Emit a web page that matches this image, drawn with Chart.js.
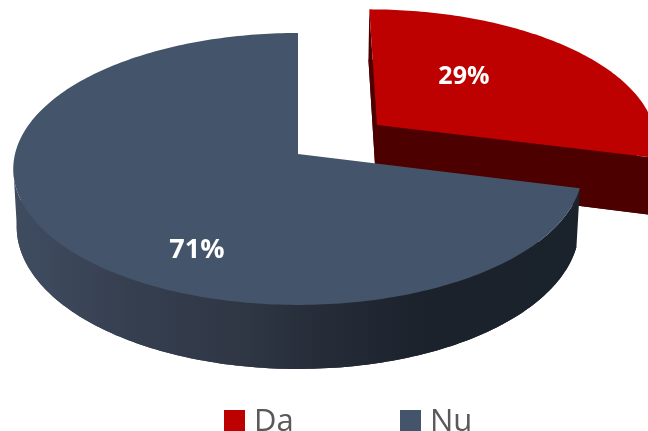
<!DOCTYPE html>
<html><head><meta charset="utf-8">
<style>html,body{margin:0;padding:0;background:#fff;overflow:hidden}#w{width:648px;height:431px}</style>
<script src="https://cdn.jsdelivr.net/npm/chart.js@4/dist/chart.umd.min.js"></script>
</head><body><div id="w"><canvas id="c" width="648" height="431"></canvas></div>
<script>
const categories = ['Da', 'Nu'];
const shares = [29, 71];
const sliceColors = ['#BD0000', '#44546A'];
const wallColors = ['#4C0000', null];
const valueLabels = ['29%', '71%'];

// perspective camera for the pie
const cam = {cx: 298, cy: 154, R: 283, S: 134.3, k: 0.11, D: 57, shrink: 0.012};
const project = (x, y, z) => {
  const w = 1 + cam.k * y;
  return [cam.cx + cam.R * x / w * (1 - cam.shrink * z), cam.cy + (-cam.S * y + cam.D * z) / w];
};
const labelAnchor = [[0.34, 0.39], [-0.331, -0.665]];
const labelFont = [25, 27];

const pie3d = {
  id: 'pie3d',
  beforeDatasetDraw(chart, args) {
    const ctx = chart.ctx;
    const arcs = chart.getDatasetMeta(args.index).data;
    const step = Math.PI / 180;
    arcs.forEach((arc, i) => {
      const p = arc.getProps(['startAngle', 'endAngle', 'outerRadius']);
      const d = arc.options.offset / p.outerRadius;
      const mid = (p.startAngle + p.endAngle) / 2;
      const ox = Math.cos(mid) * d, oy = -Math.sin(mid) * d;
      const pts = [];
      for (let a = p.startAngle; a < p.endAngle; a += step) pts.push([Math.cos(a) + ox, -Math.sin(a) + oy]);
      pts.push([Math.cos(p.endAngle) + ox, -Math.sin(p.endAngle) + oy]);

      let wall = wallColors[i];
      if (!wall) {
        wall = ctx.createLinearGradient(17, 0, 580, 0);
        wall.addColorStop(0, '#3F4C60');
        wall.addColorStop(0.2, '#363F50');
        wall.addColorStop(0.4, '#2F3745');
        wall.addColorStop(0.52, '#272E3A');
        wall.addColorStop(0.72, '#1B222C');
        wall.addColorStop(1, '#1A222C');
      }
      ctx.fillStyle = wall;
      // bottom face
      ctx.beginPath();
      ctx.moveTo(...project(ox, oy, 1));
      pts.forEach(q => ctx.lineTo(...project(q[0], q[1], 1)));
      ctx.closePath();
      ctx.fill();
      // visible part of the outer wall
      const front = pts.filter(q => q[1] <= -cam.k + 0.02);
      if (front.length > 1) {
        ctx.beginPath();
        front.forEach((q, j) => { const t = project(q[0], q[1], 0); j ? ctx.lineTo(t[0], t[1]) : ctx.moveTo(t[0], t[1]); });
        for (let j = front.length - 1; j >= 0; j--) ctx.lineTo(...project(front[j][0], front[j][1], 1));
        ctx.closePath();
        ctx.fill();
      }
      // cut faces of the pulled-out slice
      if (i === 0) {
        [pts[0], pts[pts.length - 1]].forEach(e => {
          ctx.beginPath();
          ctx.moveTo(...project(ox, oy, 0));
          ctx.lineTo(...project(e[0], e[1], 0));
          ctx.lineTo(...project(e[0], e[1], 1));
          ctx.lineTo(...project(ox, oy, 1));
          ctx.closePath();
          ctx.fill();
        });
      }
      // top face
      ctx.beginPath();
      ctx.moveTo(...project(ox, oy, 0));
      pts.forEach(q => ctx.lineTo(...project(q[0], q[1], 0)));
      ctx.closePath();
      ctx.fillStyle = arc.options.backgroundColor;
      ctx.fill();
      // value label
      const la = labelAnchor[i];
      const lp = project(la[0] + ox, la[1] + oy, 0);
      ctx.fillStyle = '#FFFFFF';
      ctx.font = 'bold ' + labelFont[i] + 'px "Open Sans"';
      ctx.textAlign = 'center';
      ctx.textBaseline = 'middle';
      ctx.fillText(valueLabels[i], lp[0], lp[1]);
    });
    return false;
  },
  afterDraw(chart) {
    const ctx = chart.ctx;
    const boxX = [224, 400], textX = [254, 430];
    ctx.font = '31px "Open Sans"';
    ctx.textAlign = 'left';
    ctx.textBaseline = 'alphabetic';
    chart.data.labels.forEach((t, i) => {
      ctx.fillStyle = chart.data.datasets[0].backgroundColor[i];
      ctx.fillRect(boxX[i], 410, 21, 21);
      ctx.fillStyle = '#595959';
      ctx.fillText(t, textX[i], 431);
    });
  }
};

new Chart(document.getElementById('c'), {
  type: 'pie',
  data: {labels: categories, datasets: [{data: shares, backgroundColor: sliceColors, borderWidth: 0, offset: [66, 0]}]},
  options: {
    responsive: false, animation: false,
    plugins: {legend: {display: false}, tooltip: {enabled: false}}
  },
  plugins: [pie3d]
});
</script></body></html>
